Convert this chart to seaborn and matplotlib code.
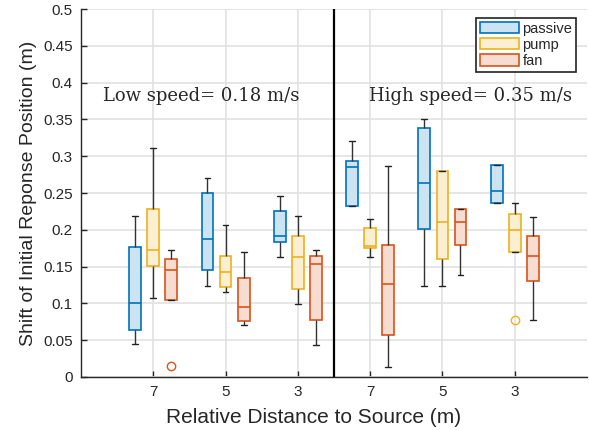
import matplotlib
matplotlib.use("Agg")
import matplotlib.pyplot as plt
from matplotlib.patches import Patch
from matplotlib.ticker import FuncFormatter
import seaborn as sns
import pandas as pd
import numpy as np

# series and slots: low speed 7/5/3 then high speed 7/5/3
conditions = ["passive", "pump", "fan"]
slot_labels = ["7", "5", "3", "7", "5", "3"]

# one sample per box (low whisker / Q1 / median / Q3 / high whisker, outliers included)
passive = [
    [0.045, 0.064, 0.100, 0.177, 0.219],
    [0.124, 0.145, 0.188, 0.250, 0.271],
    [0.163, 0.184, 0.191, 0.226, 0.246],
    [0.233, 0.233, 0.285, 0.294, 0.320],
    [0.123, 0.201, 0.263, 0.338, 0.351],
    [0.236, 0.236, 0.253, 0.288, 0.288],
]
pump = [
    [0.108, 0.151, 0.173, 0.228, 0.311],
    [0.115, 0.122, 0.142, 0.165, 0.207],
    [0.099, 0.120, 0.163, 0.191, 0.219],
    [0.163, 0.175, 0.178, 0.202, 0.214],
    [0.123, 0.161, 0.210, 0.280, 0.280],
    [0.077, 0.170, 0.200, 0.222, 0.236],
]
fan = [
    [0.015, 0.105, 0.145, 0.160, 0.173],
    [0.071, 0.076, 0.095, 0.135, 0.170],
    [0.043, 0.078, 0.154, 0.165, 0.173],
    [0.013, 0.057, 0.127, 0.179, 0.287],
    [0.139, 0.179, 0.210, 0.228, 0.228],
    [0.077, 0.130, 0.165, 0.192, 0.218],
]

edge_colors = {"passive": "#0072BD", "pump": "#EDB120", "fan": "#D95319"}
fill_colors = {"passive": "#CCE3F2", "pump": "#FBEFD2", "fan": "#F7DDD1"}

rows = []
for cond, boxes in zip(conditions, [passive, pump, fan]):
    for slot, values in enumerate(boxes):
        for v in values:
            rows.append({"slot": slot, "condition": cond, "shift": v})
df = pd.DataFrame(rows)

sns.set_style("white")
plt.rcParams["font.family"] = ["Liberation Sans", "DejaVu Sans"]

fig = plt.figure(figsize=(5.89, 4.30), dpi=100)
ax = fig.add_axes([0.1375, 0.1233, 0.8591, 0.8557])

sns.boxplot(
    data=df, x="slot", y="shift", hue="condition",
    order=list(range(6)), hue_order=conditions, palette=fill_colors,
    saturation=1, width=0.75, gap=0.35, linecolor="#333333", linewidth=1.1,
    whiskerprops=dict(color="#333333", linewidth=1.0),
    capprops=dict(color="#222222", linewidth=1.0),
    flierprops=dict(marker="o", markerfacecolor="none", markersize=6, markeredgewidth=1),
    legend=False, ax=ax,
)

# one container per hue level: give each series its own edge colour
for cond, cont in zip(conditions, ax.containers):
    c = edge_colors[cond]
    for box in cont.boxes:
        box.set_edgecolor(c)
        box.set_linewidth(1.2)
    for med in cont.medians:
        med.set_color(c)
        med.set_linewidth(1.2)
    for fl in cont.fliers:
        fl.set_markeredgecolor(c)

ax.axvline(2.5, color="black", linewidth=1.6)

ax.set_xlim(-1, 6)
ax.set_ylim(0, 0.5)
ax.set_xticks(range(6))
ax.set_xticklabels(slot_labels)
ax.set_yticks(np.arange(0, 0.501, 0.05))
ax.yaxis.set_major_formatter(FuncFormatter(lambda v, _: f"{v:g}"))

ax.grid(True, color="#e2e2e2", linewidth=1.2)
ax.set_axisbelow(True)
for side in ["top", "right"]:
    ax.spines[side].set_visible(False)
for side in ["left", "bottom"]:
    ax.spines[side].set_color("#262626")
    ax.spines[side].set_linewidth(1.0)
ax.tick_params(direction="in", length=4, width=1, bottom=True, left=True,
               colors="#262626", labelsize=11, pad=6)

ax.set_xlabel("Relative Distance to Source (m)", fontsize=15, color="#262626")
ax.xaxis.set_label_coords(0.46, -0.085)
ax.set_ylabel("Shift of Initial Reponse Position (m)", fontsize=14, color="#262626", labelpad=4)

ax.text(-0.694, 0.375, "Low speed= 0.18 m/s", family="DejaVu Serif", fontsize=13, va="baseline")
ax.text(2.986, 0.375, "High speed= 0.35 m/s", family="DejaVu Serif", fontsize=13, va="baseline")

handles = [Patch(facecolor=fill_colors[c], edgecolor=edge_colors[c], linewidth=1.2, label=c)
           for c in conditions]
leg = ax.legend(handles=handles, loc="upper right", bbox_to_anchor=(0.978, 0.976),
                fontsize=10.5, frameon=True, fancybox=False, framealpha=1,
                borderpad=0.25, labelspacing=0.15, handlelength=2.7, handleheight=0.85,
                handletextpad=0.2, borderaxespad=0)
leg.get_frame().set_edgecolor("#222222")
leg.get_frame().set_linewidth(1.2)

fig.savefig("out.png", dpi=100)
